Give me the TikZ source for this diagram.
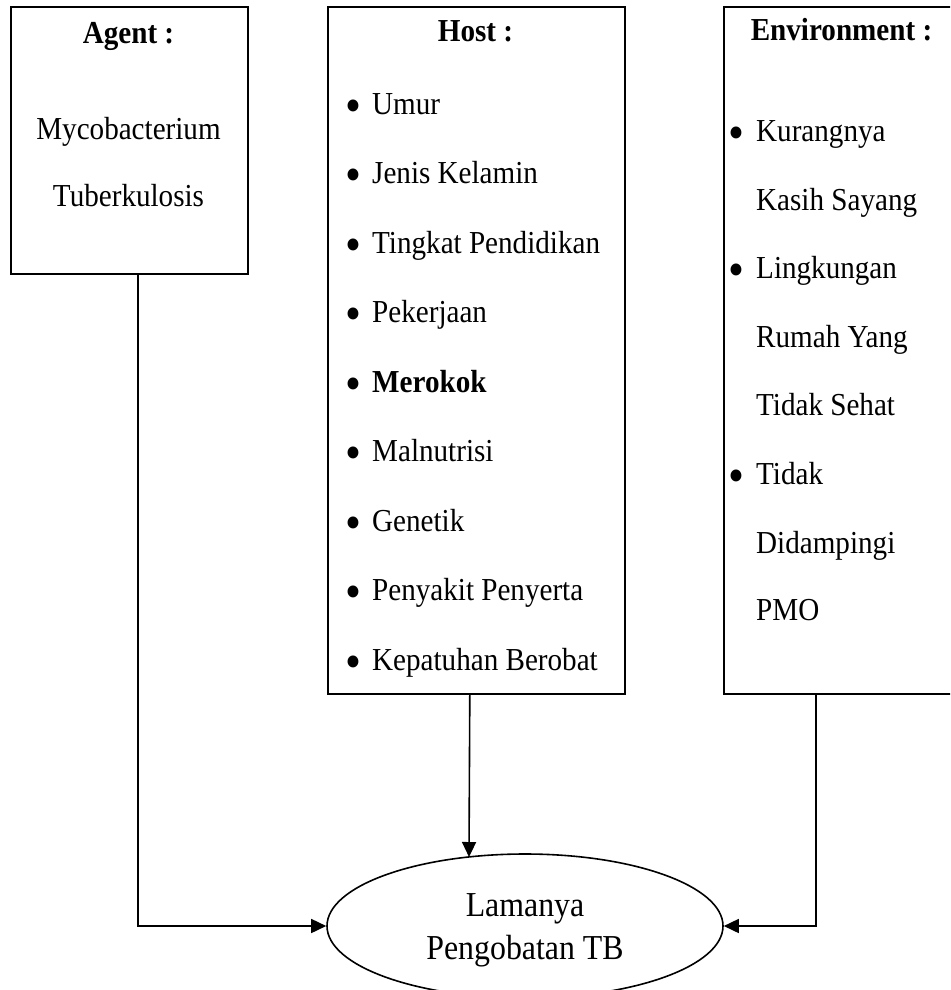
\documentclass[tikz,border=0pt]{standalone}
\usepackage{fontspec}
\setmainfont[FakeStretch=0.91]{Liberation Serif}
\usetikzlibrary{arrows.meta,shapes.geometric}
\newcommand\mybul[1][23pt]{\makebox[#1][l]{\hspace*{-3.5pt}\raisebox{-8.4pt}{\fontsize{50}{50}\selectfont •}}}
\begin{document}
\begin{tikzpicture}[x=1pt,y=-1pt,
  boxstyle/.style={draw, line width=1.6pt, rectangle, anchor=north west, inner sep=0pt},
  txt/.style={inner sep=0pt, font=\fontsize{32}{38}\selectfont},
  ctxt/.style={txt, anchor=base},
  ltxt/.style={txt, anchor=base west},
  etxt/.style={inner sep=0pt, anchor=base, font=\fontsize{35}{42}\selectfont},
  conn/.style={line width=1.6pt},
  arr/.style={conn, -{Triangle[length=15pt,width=14pt]}}]
\useasboundingbox (0,0) rectangle (950,990);
\clip (0,0) rectangle (950,990);

% boxes
\node[boxstyle, minimum width=237pt, minimum height=267pt] (agent) at (10,6) {};
\node[boxstyle, minimum width=297pt, minimum height=687pt] (host) at (327,6) {};
\node[boxstyle, minimum width=237pt, minimum height=687pt] (env) at (723,6) {};
\node[draw, ellipse, line width=1.6pt, minimum width=396pt, minimum height=144pt, inner sep=0pt] (ell) at (525,926) {};

% agent text
\node[ctxt, font=\fontsize{32}{38}\selectfont\bfseries] (at) at (128.5,44) {Agent :};
\node[ctxt] (a1) at (128.5,139) {Mycobacterium};
\node[ctxt] (a2) at (128.5,206) {Tuberkulosis};

% host text
\node[ctxt, font=\fontsize{32}{38}\selectfont\bfseries] (ht) at (475.5,42) {Host :};
\node[ltxt] (h1) at (349,114) {\mybul Umur};
\node[ltxt] (h2) at (349,183.5) {\mybul Jenis Kelamin};
\node[ltxt] (h3) at (349,253) {\mybul Tingkat Pendidikan};
\node[ltxt] (h4) at (349,322.5) {\mybul Pekerjaan};
\node[ltxt] (h5) at (349,392) {\mybul\textbf{Merokok}};
\node[ltxt] (h6) at (349,461.5) {\mybul Malnutrisi};
\node[ltxt] (h7) at (349,531) {\mybul Genetik};
\node[ltxt] (h8) at (349,600.5) {\mybul Penyakit Penyerta};
\node[ltxt] (h9) at (349,670) {\mybul Kepatuhan Berobat};

% environment text
\node[ctxt, font=\fontsize{32}{38}\selectfont\bfseries] (et) at (841.5,41) {Environment :};
\node[ltxt] (e1) at (732,141) {\mybul[24pt]Kurangnya};
\node[ltxt] (e2) at (756,210) {Kasih Sayang};
\node[ltxt] (e3) at (732,278) {\mybul[24pt]Lingkungan};
\node[ltxt] (e4) at (756,347) {Rumah Yang};
\node[ltxt] (e5) at (756,415) {Tidak Sehat};
\node[ltxt] (e6) at (732,484) {\mybul[24pt]Tidak};
\node[ltxt] (e7) at (756,553) {Didampingi};
\node[ltxt] (e8) at (756,620) {PMO};

% ellipse text
\node[etxt] (l1) at (525,916) {Lamanya};
\node[etxt] (l2) at (525,959) {Pengobatan TB};

% connectors
\coordinate (htip) at (469,857);
\draw[arr] ([xshift=8.5pt]agent.south) |- (ell.west);
\draw[arr] ([xshift=-6.5pt]host.south) -- (htip);
\draw[arr] ([xshift=-26.5pt]env.south) |- (ell.east);
\end{tikzpicture}
\end{document}
